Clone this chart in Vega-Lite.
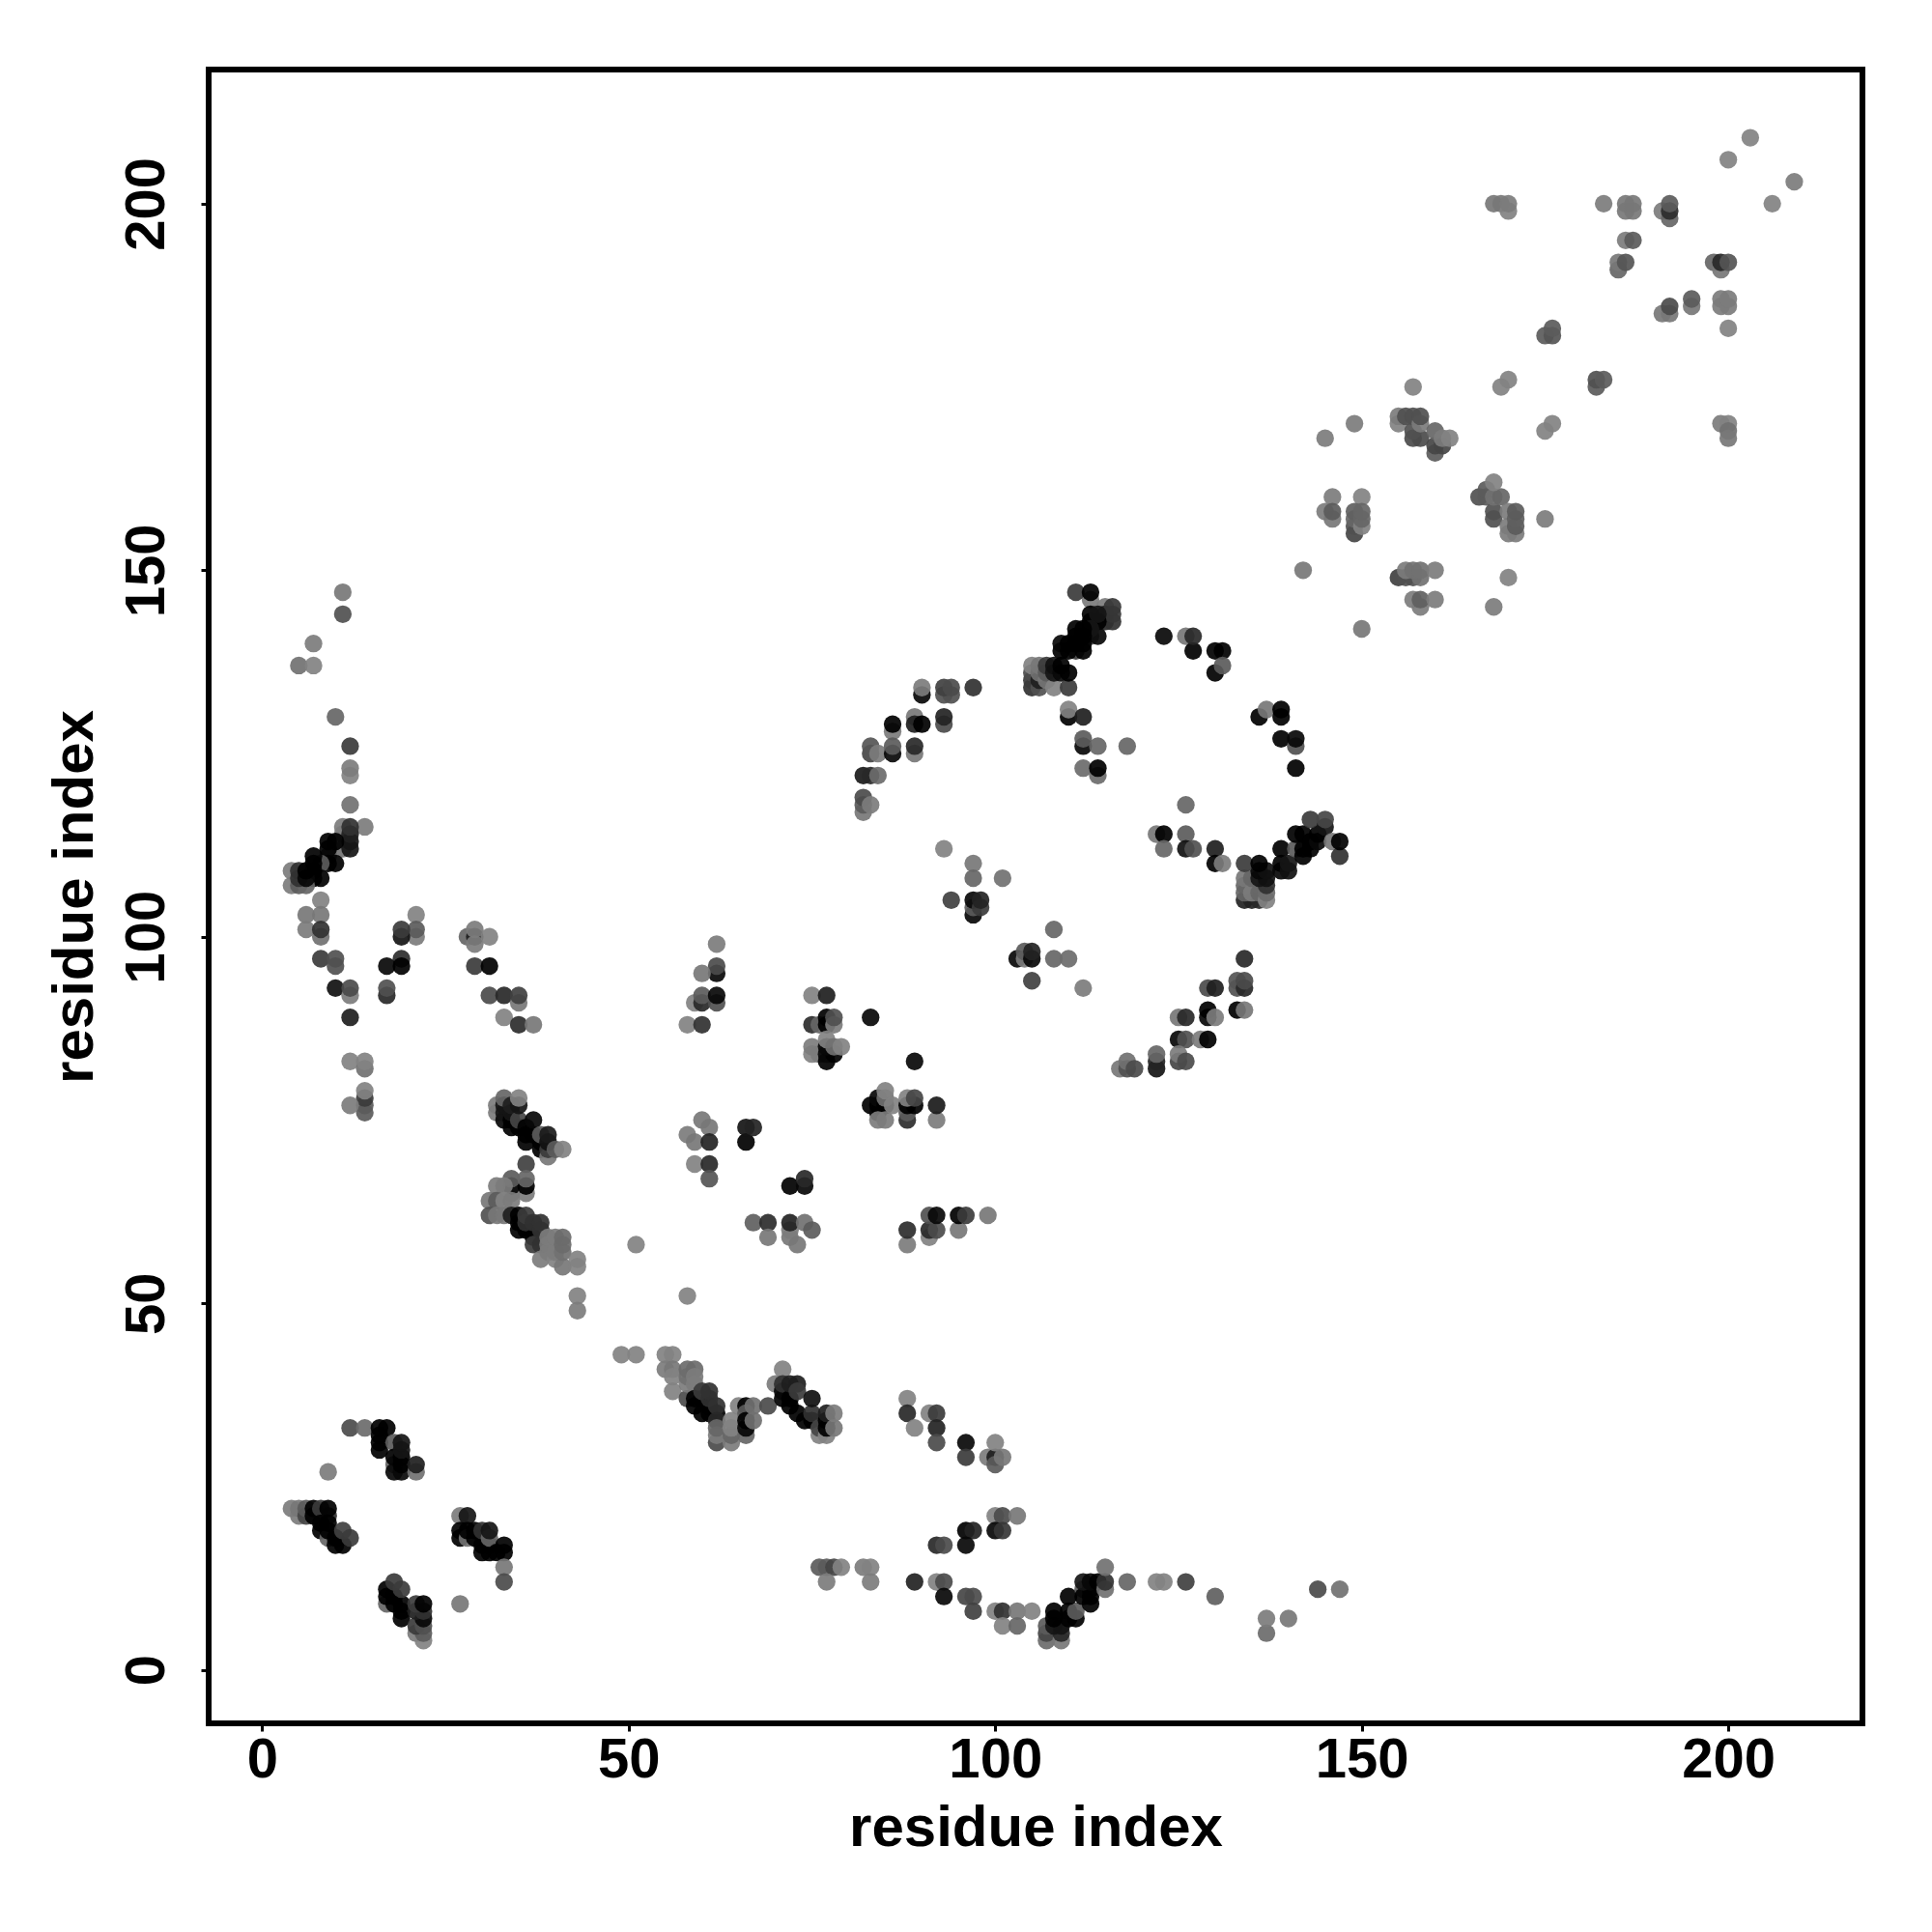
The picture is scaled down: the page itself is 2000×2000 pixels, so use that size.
{"$schema":"https://vega.github.io/schema/vega-lite/v6.json","autosize":"none","padding":{"left":216,"top":72,"right":72,"bottom":216},"width":1712,"height":1712,"background":"white","view":{"stroke":"#000000","strokeWidth":6,"fill":"white"},
"data":{"values":[
{"i":12,"j":33,"w":55},{"i":14,"j":33,"w":25},{"i":16,"j":30,"w":135},{"i":16,"j":31,"w":135},{"i":16,"j":32,"w":135},{"i":16,"j":33,"w":135},{"i":17,"j":33,"w":138},{"i":18,"j":31,"w":40},{"i":18,"j":28,"w":30},{"i":18,"j":29,"w":125},{"i":18,"j":27,"w":120},{"i":19,"j":27,"w":120},{"i":19,"j":28,"w":135},{"i":19,"j":29,"w":125},{"i":19,"j":30,"w":110},{"i":19,"j":31,"w":110},{"i":21,"j":27,"w":20},{"i":21,"j":28,"w":100},{"i":9,"j":27,"w":10},
{"i":4,"j":22,"w":10},{"i":5,"j":21,"w":10},{"i":5,"j":22,"w":15},{"i":6,"j":21,"w":60},{"i":6,"j":22,"w":40},{"i":7,"j":21,"w":125},{"i":7,"j":22,"w":125},{"i":9,"j":21,"w":80},{"i":8,"j":22,"w":70},{"i":9,"j":22,"w":130},{"i":8,"j":19,"w":130},{"i":8,"j":20,"w":130},{"i":9,"j":18,"w":30},{"i":9,"j":19,"w":135},{"i":9,"j":20,"w":135},{"i":10,"j":17,"w":138},{"i":11,"j":17,"w":138},{"i":10,"j":18,"w":138},{"i":11,"j":19,"w":65},{"i":12,"j":18,"w":70},
{"i":17,"j":9,"w":30},{"i":17,"j":10,"w":135},{"i":17,"j":11,"w":135},{"i":18,"j":9,"w":138},{"i":18,"j":10,"w":138},{"i":19,"j":7,"w":138},{"i":19,"j":8,"w":138},{"i":19,"j":9,"w":135},{"i":18,"j":12,"w":70},{"i":19,"j":11,"w":70},{"i":21,"j":5,"w":10},{"i":22,"j":4,"w":5},{"i":22,"j":5,"w":40},{"i":21,"j":6,"w":70},{"i":22,"j":6,"w":50},{"i":22,"j":7,"w":120},{"i":21,"j":8,"w":100},{"i":22,"j":8,"w":80},{"i":21,"j":9,"w":70},{"i":22,"j":9,"w":130},
{"i":27,"j":21,"w":10},{"i":28,"j":21,"w":110},{"i":27,"j":18,"w":125},{"i":27,"j":19,"w":130},{"i":28,"j":18,"w":20},{"i":28,"j":19,"w":135},{"i":29,"j":18,"w":138},{"i":29,"j":19,"w":135},{"i":30,"j":16,"w":138},{"i":30,"j":17,"w":135},{"i":30,"j":19,"w":80},{"i":31,"j":16,"w":135},{"i":31,"j":17,"w":135},{"i":31,"j":18,"w":30},{"i":31,"j":19,"w":110},{"i":32,"j":16,"w":135},{"i":33,"j":16,"w":138},{"i":33,"j":17,"w":138},{"i":33,"j":14,"w":15},{"i":33,"j":12,"w":55},{"i":27,"j":9,"w":15},
{"i":11,"j":147,"w":15},{"i":11,"j":144,"w":50},{"i":7,"j":140,"w":10},{"i":5,"j":137,"w":20},{"i":7,"j":137,"w":5},{"i":10,"j":130,"w":30},{"i":12,"j":126,"w":70},{"i":12,"j":122,"w":5},{"i":12,"j":123,"w":10},{"i":12,"j":118,"w":20},{"i":14,"j":115,"w":10},{"i":11,"j":115,"w":10},{"i":11,"j":114,"w":10},{"i":11,"j":112,"w":20},{"i":12,"j":112,"w":110},{"i":12,"j":113,"w":110},{"i":12,"j":114,"w":100},{"i":12,"j":115,"w":80},
{"i":9,"j":111,"w":40},{"i":9,"j":112,"w":135},{"i":9,"j":113,"w":135},{"i":10,"j":113,"w":130},{"i":9,"j":110,"w":135},{"i":10,"j":110,"w":138},{"i":8,"j":110,"w":40},{"i":7,"j":109,"w":135},{"i":7,"j":110,"w":135},{"i":7,"j":111,"w":138},{"i":7,"j":108,"w":135},{"i":8,"j":108,"w":138},{"i":4,"j":107,"w":10},{"i":4,"j":109,"w":10},{"i":5,"j":107,"w":40},{"i":6,"j":107,"w":30},{"i":5,"j":108,"w":80},{"i":5,"j":109,"w":80},{"i":6,"j":108,"w":120},{"i":6,"j":109,"w":125},
{"i":8,"j":105,"w":5},{"i":8,"j":103,"w":15},{"i":6,"j":103,"w":15},{"i":6,"j":101,"w":10},{"i":8,"j":100,"w":20},{"i":8,"j":101,"w":80},{"i":8,"j":97,"w":70},{"i":10,"j":97,"w":50},{"i":10,"j":96,"w":50},{"i":21,"j":103,"w":5},{"i":21,"j":100,"w":10},{"i":21,"j":101,"w":40},{"i":19,"j":100,"w":110},{"i":19,"j":101,"w":70},{"i":19,"j":97,"w":85},{"i":17,"j":96,"w":120},{"i":19,"j":96,"w":130},{"i":28,"j":100,"w":30},{"i":29,"j":100,"w":100},{"i":29,"j":99,"w":10},{"i":29,"j":101,"w":10},{"i":31,"j":100,"w":5},{"i":29,"j":96,"w":70},{"i":31,"j":96,"w":125},
{"i":10,"j":93,"w":115},{"i":12,"j":92,"w":10},{"i":12,"j":93,"w":55},{"i":17,"j":92,"w":90},{"i":17,"j":93,"w":50},{"i":31,"j":92,"w":55},{"i":33,"j":92,"w":90},{"i":35,"j":91,"w":15},{"i":35,"j":92,"w":65},{"i":12,"j":89,"w":100},{"i":33,"j":89,"w":5},{"i":35,"j":88,"w":85},{"i":37,"j":88,"w":15},{"i":12,"j":83,"w":5},{"i":14,"j":82,"w":20},{"i":14,"j":83,"w":5},{"i":14,"j":76,"w":40},{"i":14,"j":77,"w":40},{"i":14,"j":78,"w":70},{"i":14,"j":79,"w":5},{"i":12,"j":77,"w":10},
{"i":32,"j":76,"w":10},{"i":32,"j":77,"w":10},{"i":33,"j":75,"w":120},{"i":33,"j":76,"w":110},{"i":33,"j":77,"w":110},{"i":33,"j":78,"w":30},{"i":34,"j":74,"w":138},{"i":34,"j":75,"w":130},{"i":34,"j":76,"w":110},{"i":34,"j":77,"w":100},{"i":35,"j":74,"w":135},{"i":35,"j":75,"w":60},{"i":35,"j":77,"w":110},{"i":35,"j":78,"w":5},{"i":36,"j":72,"w":138},{"i":36,"j":73,"w":135},{"i":36,"j":74,"w":135},{"i":37,"j":73,"w":130},{"i":37,"j":75,"w":120},{"i":38,"j":71,"w":138},{"i":38,"j":72,"w":135},{"i":38,"j":73,"w":40},{"i":39,"j":70,"w":15},{"i":39,"j":71,"w":70},{"i":39,"j":72,"w":115},{"i":39,"j":73,"w":105},{"i":40,"j":71,"w":40},{"i":41,"j":71,"w":5},{"i":36,"j":69,"w":65},
{"i":36,"j":65,"w":10},{"i":34,"j":65,"w":10},{"i":34,"j":66,"w":120},{"i":36,"j":66,"w":138},{"i":34,"j":67,"w":40},{"i":36,"j":67,"w":30},{"i":32,"j":66,"w":10},{"i":33,"j":66,"w":10},{"i":31,"j":64,"w":15},{"i":32,"j":64,"w":40},{"i":33,"j":64,"w":5},{"i":34,"j":64,"w":10},{"i":31,"j":62,"w":50},{"i":32,"j":62,"w":15},{"i":33,"j":62,"w":15},
{"i":34,"j":62,"w":100},{"i":35,"j":60,"w":138},{"i":35,"j":61,"w":138},{"i":35,"j":62,"w":138},{"i":36,"j":60,"w":125},{"i":36,"j":61,"w":80},{"i":36,"j":62,"w":70},{"i":37,"j":59,"w":125},{"i":37,"j":61,"w":80},{"i":37,"j":58,"w":70},{"i":38,"j":58,"w":80},{"i":38,"j":60,"w":80},{"i":38,"j":61,"w":80},{"i":38,"j":56,"w":10},{"i":39,"j":57,"w":10},{"i":39,"j":58,"w":10},{"i":39,"j":59,"w":10},{"i":40,"j":56,"w":5},{"i":40,"j":57,"w":10},{"i":40,"j":59,"w":10},{"i":41,"j":55,"w":15},{"i":41,"j":57,"w":20},{"i":41,"j":58,"w":25},{"i":41,"j":59,"w":25},{"i":43,"j":55,"w":5},{"i":43,"j":56,"w":5},{"i":43,"j":51,"w":5},{"i":43,"j":49,"w":10},{"i":51,"j":58,"w":5},{"i":49,"j":43,"w":5},{"i":51,"j":43,"w":5},
{"i":55,"j":43,"w":5},{"i":56,"j":43,"w":5},{"i":55,"j":41,"w":10},{"i":56,"j":41,"w":15},{"i":56,"j":40,"w":5},{"i":56,"j":38,"w":5},{"i":58,"j":37,"w":55},{"i":58,"j":39,"w":10},{"i":58,"j":40,"w":20},{"i":58,"j":41,"w":25},{"i":59,"j":41,"w":25},{"i":59,"j":40,"w":10},{"i":59,"j":39,"w":10},{"i":59,"j":36,"w":130},{"i":59,"j":37,"w":130},{"i":60,"j":35,"w":138},{"i":60,"j":37,"w":135},{"i":60,"j":38,"w":70},{"i":61,"j":35,"w":138},{"i":61,"j":36,"w":130},{"i":61,"j":37,"w":80},{"i":61,"j":38,"w":80},{"i":62,"j":35,"w":130},{"i":62,"j":36,"w":80},{"i":62,"j":34,"w":90},{"i":62,"j":31,"w":55},{"i":62,"j":32,"w":10},{"i":62,"j":33,"w":30},{"i":64,"j":31,"w":10},{"i":64,"j":32,"w":30},{"i":64,"j":33,"w":5},{"i":64,"j":34,"w":5},{"i":66,"j":32,"w":30},{"i":65,"j":36,"w":5},{"i":66,"j":33,"w":120},{"i":66,"j":36,"w":130},{"i":66,"j":35,"w":40},{"i":66,"j":34,"w":130},{"i":67,"j":36,"w":20},{"i":67,"j":34,"w":20},{"i":69,"j":36,"w":55},
{"i":71,"j":41,"w":5},{"i":70,"j":39,"w":10},{"i":71,"j":37,"w":130},{"i":71,"j":38,"w":120},{"i":71,"j":39,"w":80},{"i":72,"j":36,"w":138},{"i":72,"j":37,"w":138},{"i":72,"j":39,"w":100},{"i":73,"j":39,"w":100},{"i":73,"j":35,"w":130},{"i":73,"j":38,"w":70},{"i":74,"j":34,"w":138},{"i":75,"j":34,"w":130},{"i":75,"j":35,"w":80},{"i":75,"j":37,"w":115},{"i":76,"j":32,"w":5},{"i":76,"j":33,"w":60},{"i":77,"j":32,"w":5},{"i":77,"j":33,"w":130},{"i":77,"j":34,"w":130},{"i":77,"j":35,"w":100},{"i":78,"j":33,"w":15},{"i":78,"j":35,"w":10},
{"i":88,"j":37,"w":5},{"i":88,"j":35,"w":90},{"i":89,"j":33,"w":5},{"i":91,"j":35,"w":5},{"i":92,"j":35,"w":70},{"i":92,"j":33,"w":95},{"i":92,"j":31,"w":55},{"i":96,"j":31,"w":120},{"i":96,"j":29,"w":70},{"i":99,"j":29,"w":10},{"i":100,"j":29,"w":100},{"i":100,"j":28,"w":40},{"i":100,"j":31,"w":5},{"i":101,"j":29,"w":15},
{"i":100,"j":21,"w":5},{"i":101,"j":21,"w":55},{"i":103,"j":21,"w":15},{"i":100,"j":19,"w":120},{"i":101,"j":19,"w":75},{"i":96,"j":19,"w":130},{"i":97,"j":19,"w":95},{"i":96,"j":17,"w":120},{"i":92,"j":17,"w":90},{"i":93,"j":17,"w":55},
{"i":76,"j":14,"w":40},{"i":77,"j":14,"w":40},{"i":78,"j":14,"w":60},{"i":79,"j":14,"w":5},{"i":82,"j":14,"w":10},{"i":83,"j":14,"w":5},{"i":77,"j":12,"w":10},{"i":83,"j":12,"w":10},{"i":89,"j":12,"w":95},{"i":92,"j":12,"w":5},{"i":93,"j":12,"w":55},{"i":93,"j":10,"w":120},{"i":96,"j":10,"w":60},{"i":97,"j":10,"w":55},{"i":97,"j":8,"w":65},{"i":100,"j":8,"w":5},{"i":101,"j":8,"w":80},{"i":103,"j":8,"w":15},{"i":105,"j":8,"w":5},{"i":101,"j":6,"w":5},{"i":103,"j":6,"w":30},
{"i":107,"j":4,"w":25},{"i":107,"j":5,"w":60},{"i":107,"j":6,"w":40},{"i":109,"j":4,"w":15},{"i":109,"j":5,"w":90},{"i":108,"j":6,"w":110},{"i":109,"j":6,"w":110},{"i":108,"j":7,"w":135},{"i":108,"j":8,"w":138},{"i":110,"j":7,"w":135},{"i":111,"j":7,"w":138},{"i":110,"j":8,"w":138},{"i":111,"j":8,"w":40},{"i":110,"j":10,"w":138},{"i":112,"j":11,"w":40},{"i":113,"j":9,"w":138},{"i":113,"j":10,"w":135},{"i":113,"j":11,"w":135},{"i":112,"j":10,"w":130},{"i":112,"j":12,"w":110},{"i":113,"j":12,"w":120},{"i":114,"j":12,"w":125},{"i":115,"j":11,"w":20},{"i":115,"j":12,"w":80},{"i":115,"j":14,"w":20},{"i":118,"j":12,"w":30},{"i":122,"j":12,"w":5},{"i":123,"j":12,"w":5},{"i":126,"j":12,"w":65},{"i":130,"j":10,"w":35},{"i":137,"j":5,"w":25},{"i":137,"j":7,"w":10},{"i":140,"j":7,"w":15},{"i":144,"j":11,"w":55},{"i":147,"j":11,"w":20},
{"i":62,"j":99,"w":10},{"i":62,"j":95,"w":120},{"i":62,"j":96,"w":55},{"i":60,"j":95,"w":15},{"i":59,"j":91,"w":5},{"i":60,"j":91,"w":90},{"i":62,"j":91,"w":50},{"i":60,"j":92,"w":40},{"i":62,"j":92,"w":120},{"i":58,"j":88,"w":5},{"i":60,"j":88,"w":80},
{"i":75,"j":92,"w":5},{"i":77,"j":92,"w":100},{"i":75,"j":88,"w":85},{"i":76,"j":88,"w":30},{"i":77,"j":88,"w":130},{"i":77,"j":89,"w":125},{"i":78,"j":88,"w":10},{"i":78,"j":89,"w":50},{"i":83,"j":89,"w":120},{"i":75,"j":84,"w":5},{"i":75,"j":85,"w":10},{"i":76,"j":84,"w":10},{"i":77,"j":83,"w":130},{"i":77,"j":84,"w":120},{"i":78,"j":84,"w":130},{"i":77,"j":85,"w":120},{"i":77,"j":86,"w":5},{"i":78,"j":85,"w":20},{"i":79,"j":85,"w":5},{"i":89,"j":83,"w":120},
{"i":83,"j":77,"w":130},{"i":84,"j":76,"w":120},{"i":84,"j":77,"w":125},{"i":84,"j":78,"w":120},{"i":85,"j":77,"w":130},{"i":84,"j":75,"w":10},{"i":85,"j":75,"w":10},{"i":85,"j":78,"w":20},{"i":85,"j":79,"w":5},{"i":86,"j":77,"w":5},{"i":88,"j":75,"w":85},{"i":88,"j":76,"w":40},{"i":88,"j":77,"w":125},{"i":89,"j":77,"w":135},{"i":88,"j":78,"w":5},{"i":89,"j":78,"w":60},{"i":92,"j":75,"w":10},{"i":92,"j":77,"w":105},
{"i":60,"j":75,"w":15},{"i":61,"j":74,"w":15},{"i":58,"j":73,"w":10},{"i":59,"j":72,"w":15},{"i":61,"j":72,"w":95},{"i":59,"j":69,"w":5},{"i":61,"j":69,"w":90},{"i":61,"j":67,"w":45},{"i":66,"j":72,"w":125},{"i":66,"j":74,"w":110},{"i":67,"j":74,"w":95},{"i":72,"j":66,"w":125},{"i":74,"j":66,"w":120},{"i":74,"j":67,"w":90},
{"i":67,"j":61,"w":35},{"i":69,"j":61,"w":85},{"i":69,"j":59,"w":15},{"i":72,"j":59,"w":15},{"i":72,"j":60,"w":10},{"i":72,"j":61,"w":95},{"i":73,"j":58,"w":15},{"i":74,"j":61,"w":20},{"i":75,"j":60,"w":40},{"i":58,"j":51,"w":5},
{"i":88,"j":58,"w":10},{"i":88,"j":60,"w":85},{"i":91,"j":59,"w":5},{"i":91,"j":60,"w":90},{"i":92,"j":60,"w":55},{"i":91,"j":62,"w":50},{"i":92,"j":62,"w":120},{"i":95,"j":60,"w":15},{"i":95,"j":62,"w":125},{"i":96,"j":62,"w":70},{"i":99,"j":62,"w":15},
{"i":103,"j":97,"w":120},{"i":104,"j":97,"w":10},{"i":104,"j":98,"w":40},{"i":105,"j":97,"w":120},{"i":105,"j":98,"w":95},{"i":105,"j":94,"w":65},{"i":108,"j":97,"w":30},{"i":110,"j":97,"w":25},{"i":108,"j":101,"w":30},{"i":112,"j":93,"w":10},
{"i":113,"j":146,"w":10},{"i":111,"j":147,"w":70},{"i":113,"j":147,"w":125},{"i":115,"j":145,"w":10},{"i":113,"j":141,"w":40},{"i":115,"j":143,"w":90},{"i":115,"j":144,"w":100},{"i":116,"j":143,"w":80},{"i":116,"j":144,"w":75},{"i":116,"j":145,"w":75},{"i":113,"j":143,"w":125},{"i":113,"j":144,"w":130},{"i":114,"j":143,"w":125},{"i":114,"j":144,"w":110},{"i":114,"j":141,"w":120},{"i":113,"j":142,"w":110},{"i":111,"j":139,"w":70},{"i":111,"j":140,"w":135},{"i":111,"j":141,"w":135},{"i":111,"j":142,"w":138},{"i":112,"j":139,"w":138},{"i":112,"j":140,"w":135},{"i":112,"j":141,"w":135},{"i":112,"j":142,"w":130},{"i":109,"j":139,"w":130},{"i":109,"j":140,"w":120},{"i":110,"j":139,"w":130},{"i":110,"j":140,"w":130},
{"i":105,"j":134,"w":80},{"i":105,"j":135,"w":70},{"i":105,"j":136,"w":55},{"i":105,"j":137,"w":5},{"i":106,"j":134,"w":50},{"i":106,"j":135,"w":100},{"i":106,"j":136,"w":20},{"i":106,"j":137,"w":15},{"i":107,"j":135,"w":15},{"i":107,"j":136,"w":40},{"i":107,"j":137,"w":70},{"i":108,"j":134,"w":5},{"i":108,"j":136,"w":110},{"i":108,"j":137,"w":115},{"i":109,"j":136,"w":120},{"i":109,"j":137,"w":125},{"i":110,"j":134,"w":70},{"i":110,"j":136,"w":138},
{"i":110,"j":130,"w":130},{"i":110,"j":131,"w":5},{"i":112,"j":130,"w":100},{"i":112,"j":126,"w":120},{"i":112,"j":127,"w":40},{"i":114,"j":126,"w":30},{"i":118,"j":126,"w":30},{"i":112,"j":123,"w":25},{"i":114,"j":122,"w":25},{"i":114,"j":123,"w":125},
{"i":123,"j":141,"w":120},{"i":126,"j":141,"w":15},{"i":127,"j":139,"w":138},{"i":127,"j":141,"w":90},{"i":130,"j":139,"w":138},{"i":131,"j":139,"w":130},{"i":130,"j":136,"w":138},{"i":131,"j":137,"w":40},{"i":136,"j":130,"w":130},{"i":137,"j":131,"w":15},{"i":139,"j":130,"w":130},{"i":139,"j":131,"w":130},{"i":139,"j":127,"w":135},{"i":141,"j":126,"w":50},{"i":141,"j":127,"w":120},{"i":141,"j":123,"w":125},
{"i":90,"j":133,"w":120},{"i":90,"j":134,"w":10},{"i":93,"j":133,"w":50},{"i":94,"j":133,"w":50},{"i":93,"j":134,"w":65},{"i":94,"j":134,"w":55},{"i":97,"j":134,"w":80},{"i":89,"j":130,"w":15},{"i":89,"j":129,"w":100},{"i":90,"j":129,"w":130},{"i":93,"j":129,"w":55},{"i":93,"j":130,"w":95},{"i":86,"j":128,"w":10},{"i":86,"j":129,"w":125},{"i":83,"j":125,"w":60},{"i":83,"j":126,"w":45},{"i":84,"j":125,"w":10},{"i":86,"j":125,"w":120},{"i":86,"j":126,"w":40},{"i":89,"j":125,"w":15},{"i":89,"j":126,"w":90},{"i":82,"j":122,"w":105},{"i":83,"j":122,"w":90},{"i":84,"j":122,"w":25},{"i":82,"j":117,"w":15},{"i":82,"j":118,"w":40},{"i":82,"j":119,"w":55},{"i":83,"j":118,"w":10},
{"i":93,"j":112,"w":5},{"i":97,"j":110,"w":15},{"i":97,"j":108,"w":30},{"i":101,"j":108,"w":20},{"i":94,"j":105,"w":65},{"i":97,"j":103,"w":120},{"i":97,"j":104,"w":40},{"i":97,"j":105,"w":120},{"i":98,"j":104,"w":70},{"i":98,"j":105,"w":95},
{"i":126,"j":118,"w":30},{"i":122,"j":114,"w":15},{"i":123,"j":114,"w":125},{"i":126,"j":114,"w":40},{"i":123,"j":112,"w":30},{"i":126,"j":112,"w":115},{"i":127,"j":112,"w":50},{"i":130,"j":112,"w":100},{"i":130,"j":110,"w":135},{"i":131,"j":110,"w":10},
{"i":134,"j":105,"w":95},{"i":135,"j":105,"w":95},{"i":136,"j":105,"w":90},{"i":134,"j":106,"w":30},{"i":134,"j":107,"w":30},{"i":134,"j":108,"w":15},{"i":135,"j":106,"w":10},{"i":135,"j":108,"w":30},{"i":136,"j":106,"w":30},{"i":137,"j":105,"w":5},{"i":137,"j":106,"w":25},{"i":137,"j":107,"w":80},{"i":136,"j":108,"w":110},{"i":137,"j":108,"w":115},{"i":136,"j":109,"w":120},{"i":137,"j":109,"w":115},{"i":134,"j":110,"w":70},{"i":136,"j":110,"w":130},
{"i":139,"j":109,"w":120},{"i":139,"j":110,"w":130},{"i":139,"j":112,"w":138},{"i":140,"j":109,"w":115},{"i":140,"j":110,"w":110},{"i":141,"j":112,"w":40},{"i":142,"j":111,"w":138},{"i":142,"j":112,"w":138},{"i":143,"j":112,"w":130},{"i":143,"j":113,"w":125},{"i":141,"j":114,"w":138},{"i":142,"j":114,"w":135},{"i":144,"j":113,"w":120},{"i":144,"j":114,"w":130},{"i":143,"j":116,"w":70},{"i":145,"j":115,"w":110},{"i":145,"j":116,"w":60},{"i":146,"j":113,"w":15},{"i":147,"j":111,"w":80},{"i":147,"j":113,"w":130},
{"i":134,"j":97,"w":90},{"i":133,"j":93,"w":50},{"i":133,"j":94,"w":45},{"i":134,"j":93,"w":90},{"i":134,"j":94,"w":55},{"i":129,"j":93,"w":55},{"i":130,"j":93,"w":100},{"i":133,"j":90,"w":125},{"i":134,"j":90,"w":15},{"i":129,"j":89,"w":120},{"i":129,"j":90,"w":138},{"i":130,"j":89,"w":10},{"i":125,"j":89,"w":15},{"i":126,"j":89,"w":90},{"i":125,"j":86,"w":120},{"i":126,"j":86,"w":50},{"i":128,"j":86,"w":10},{"i":129,"j":86,"w":125},{"i":122,"j":82,"w":110},{"i":122,"j":83,"w":95},{"i":122,"j":84,"w":30},{"i":125,"j":83,"w":60},{"i":125,"j":84,"w":10},{"i":126,"j":83,"w":55},{"i":117,"j":82,"w":15},{"i":118,"j":82,"w":50},{"i":118,"j":83,"w":20},{"i":119,"j":82,"w":55},
{"i":157,"j":175,"w":5},{"i":145,"j":168,"w":10},{"i":149,"j":170,"w":10},{"i":155,"j":170,"w":5},{"i":155,"j":171,"w":10},{"i":156,"j":171,"w":50},{"i":157,"j":168,"w":55},{"i":158,"j":168,"w":55},{"i":157,"j":169,"w":50},{"i":157,"j":171,"w":50},{"i":158,"j":170,"w":10},{"i":158,"j":171,"w":50},{"i":160,"j":166,"w":40},{"i":160,"j":167,"w":60},{"i":161,"j":167,"w":60},{"i":160,"j":169,"w":30},{"i":161,"j":168,"w":10},{"i":162,"j":168,"w":5},
{"i":169,"j":175,"w":5},{"i":170,"j":176,"w":5},{"i":175,"j":169,"w":5},{"i":176,"j":170,"w":5},{"i":182,"j":175,"w":40},{"i":182,"j":176,"w":50},{"i":183,"j":176,"w":40},
{"i":146,"j":160,"w":10},{"i":150,"j":160,"w":5},{"i":145,"j":158,"w":10},{"i":146,"j":157,"w":15},{"i":146,"j":158,"w":40},{"i":149,"j":155,"w":60},{"i":149,"j":156,"w":50},{"i":149,"j":157,"w":30},{"i":149,"j":158,"w":35},{"i":150,"j":156,"w":5},{"i":150,"j":157,"w":30},{"i":150,"j":158,"w":30},
{"i":166,"j":160,"w":50},{"i":167,"j":160,"w":40},{"i":167,"j":161,"w":40},{"i":168,"j":157,"w":50},{"i":168,"j":158,"w":50},{"i":168,"j":160,"w":20},{"i":169,"j":160,"w":30},{"i":168,"j":162,"w":5},{"i":170,"j":155,"w":10},{"i":170,"j":156,"w":10},{"i":170,"j":158,"w":10},{"i":171,"j":155,"w":10},{"i":171,"j":156,"w":40},{"i":171,"j":157,"w":35},{"i":171,"j":158,"w":40},{"i":175,"j":157,"w":10},
{"i":142,"j":150,"w":15},{"i":155,"j":149,"w":65},{"i":156,"j":149,"w":50},{"i":157,"j":149,"w":50},{"i":156,"j":150,"w":10},{"i":157,"j":150,"w":20},{"i":158,"j":149,"w":20},{"i":158,"j":150,"w":20},{"i":160,"j":150,"w":10},{"i":157,"j":146,"w":10},{"i":158,"j":145,"w":10},{"i":158,"j":146,"w":35},{"i":160,"j":146,"w":10},{"i":170,"j":149,"w":5},{"i":168,"j":145,"w":10},{"i":150,"j":142,"w":15},
{"i":203,"j":209,"w":5},{"i":200,"j":206,"w":5},{"i":209,"j":203,"w":10},{"i":206,"j":200,"w":5},{"i":168,"j":200,"w":15},{"i":169,"j":200,"w":15},{"i":170,"j":199,"w":5},{"i":170,"j":200,"w":10},{"i":183,"j":200,"w":10},{"i":186,"j":199,"w":15},{"i":186,"j":200,"w":15},{"i":187,"j":199,"w":15},{"i":187,"j":200,"w":15},{"i":191,"j":199,"w":10},{"i":192,"j":198,"w":30},{"i":192,"j":199,"w":85},{"i":192,"j":200,"w":40},{"i":186,"j":195,"w":10},{"i":187,"j":195,"w":40},{"i":185,"j":191,"w":30},{"i":185,"j":192,"w":15},{"i":186,"j":192,"w":45},{"i":198,"j":192,"w":30},{"i":199,"j":191,"w":15},{"i":199,"j":192,"w":90},{"i":200,"j":192,"w":45},
{"i":191,"j":185,"w":15},{"i":192,"j":185,"w":15},{"i":192,"j":186,"w":55},{"i":195,"j":186,"w":15},{"i":195,"j":187,"w":40},{"i":199,"j":186,"w":10},{"i":199,"j":187,"w":10},{"i":200,"j":186,"w":10},{"i":200,"j":187,"w":10},{"i":200,"j":183,"w":5},{"i":175,"j":182,"w":40},{"i":176,"j":182,"w":45},{"i":176,"j":183,"w":40},{"i":199,"j":170,"w":10},{"i":200,"j":170,"w":5},{"i":200,"j":169,"w":20},{"i":200,"j":168,"w":15}
]},
"mark":{"type":"circle","opacity":0.92,"size":335,"stroke":null},
"encoding":{
"x":{"field":"i","type":"quantitative","scale":{"domain":[-7.3,218.3],"nice":false,"zero":false},"axis":{"title":"residue index","values":[0,50,100,150,200],"grid":false,"domain":false,"tickColor":"#000","tickWidth":3,"tickSize":8,"labelFont":"Liberation Sans","labelFontWeight":"bold","labelFontSize":58,"labelColor":"#000","labelPadding":1,"labelFlush":false,"labelOverlap":false,"titleFont":"Liberation Sans","titleFontWeight":"bold","titleFontSize":60,"titleColor":"#000","titlePadding":12}},
"y":{"field":"j","type":"quantitative","scale":{"domain":[-7.3,218.3],"nice":false,"zero":false},"axis":{"title":"residue index","values":[0,50,100,150,200],"grid":false,"domain":false,"tickColor":"#000","tickWidth":3,"tickSize":8,"labelFont":"Liberation Sans","labelFontWeight":"bold","labelFontSize":58,"labelColor":"#000","labelAngle":270,"labelAlign":"center","labelBaseline":"bottom","labelPadding":27,"labelFlush":false,"labelOverlap":false,"titleFont":"Liberation Sans","titleFontWeight":"bold","titleFontSize":60,"titleColor":"#000","titlePadding":15}},
"color":{"field":"w","type":"quantitative","legend":null,"scale":{"domain":[0,125],"range":["#888888","#000000"],"clamp":true}}
}}
